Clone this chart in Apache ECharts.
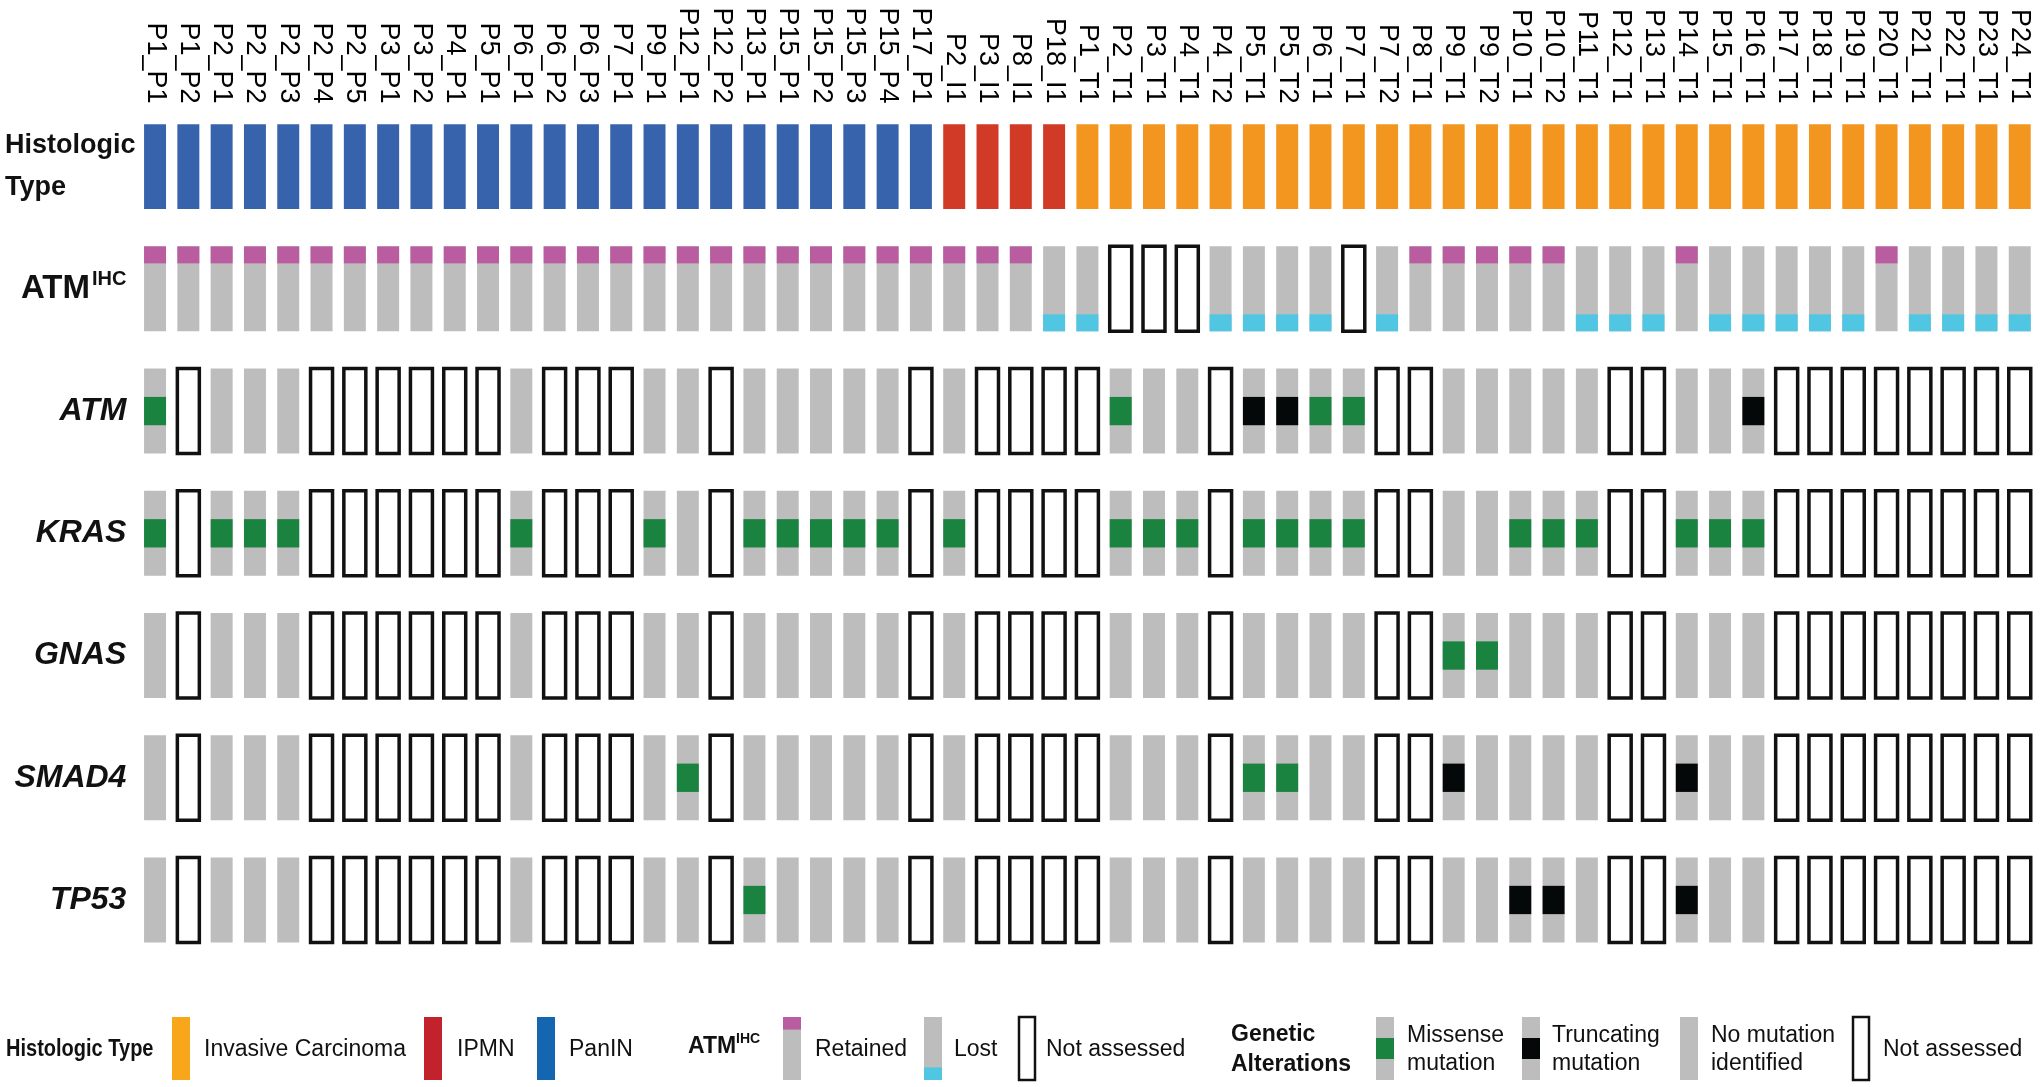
<!DOCTYPE html>
<html><head><meta charset="utf-8">
<script src="https://cdn.jsdelivr.net/npm/echarts@6/dist/echarts.min.js"></script>
<style>html,body{margin:0;padding:0;background:#fff}#chart{width:2040px;height:1087px}</style>
</head><body><div id="chart"></div>
<script>
// ---------------- DATA ----------------
const samples = ['P1_P1','P1_P2','P2_P1','P2_P2','P2_P3','P2_P4','P2_P5','P3_P1','P3_P2','P4_P1',
  'P5_P1','P6_P1','P6_P2','P6_P3','P7_P1','P9_P1','P12_P1','P12_P2','P13_P1','P15_P1',
  'P15_P2','P15_P3','P15_P4','P17_P1','P2_I1','P3_I1','P8_I1','P18_I1','P1_T1','P2_T1',
  'P3_T1','P4_T1','P4_T2','P5_T1','P5_T2','P6_T1','P7_T1','P7_T2','P8_T1','P9_T1',
  'P9_T2','P10_T1','P10_T2','P11_T1','P12_T1','P13_T1','P14_T1','P15_T1','P16_T1','P17_T1',
  'P18_T1','P19_T1','P20_T1','P21_T1','P22_T1','P23_T1','P24_T1'];

const rowNames = ['Histologic Type','ATM IHC','ATM','KRAS','GNAS','SMAD4','TP53'];

// PanIN / IPMN / IC (invasive carcinoma)
const histologicType = ['PanIN','PanIN','PanIN','PanIN','PanIN','PanIN','PanIN','PanIN','PanIN','PanIN',
  'PanIN','PanIN','PanIN','PanIN','PanIN','PanIN','PanIN','PanIN','PanIN','PanIN',
  'PanIN','PanIN','PanIN','PanIN','IPMN','IPMN','IPMN','IPMN','IC','IC',
  'IC','IC','IC','IC','IC','IC','IC','IC','IC','IC',
  'IC','IC','IC','IC','IC','IC','IC','IC','IC','IC',
  'IC','IC','IC','IC','IC','IC','IC'];

// R = retained, L = lost, N = not assessed
const atmIHC = ['R','R','R','R','R','R','R','R','R','R',
  'R','R','R','R','R','R','R','R','R','R',
  'R','R','R','R','R','R','R','L','L','N',
  'N','N','L','L','L','L','N','L','R','R',
  'R','R','R','L','L','L','R','L','L','L',
  'L','L','R','L','L','L','L'];

// W = no mutation identified, M = missense, T = truncating, N = not assessed
const atmMutation = ['M','N','W','W','W','N','N','N','N','N',
  'N','W','N','N','N','W','W','N','W','W',
  'W','W','W','N','W','N','N','N','N','M',
  'W','W','N','T','T','M','M','N','N','W',
  'W','W','W','W','N','N','W','W','T','N',
  'N','N','N','N','N','N','N'];
const krasMutation = ['M','N','M','M','M','N','N','N','N','N',
  'N','M','N','N','N','M','W','N','M','M',
  'M','M','M','N','M','N','N','N','N','M',
  'M','M','N','M','M','M','M','N','N','W',
  'W','M','M','M','N','N','M','M','M','N',
  'N','N','N','N','N','N','N'];
const gnasMutation = ['W','N','W','W','W','N','N','N','N','N',
  'N','W','N','N','N','W','W','N','W','W',
  'W','W','W','N','W','N','N','N','N','W',
  'W','W','N','W','W','W','W','N','N','M',
  'M','W','W','W','N','N','W','W','W','N',
  'N','N','N','N','N','N','N'];
const smad4Mutation = ['W','N','W','W','W','N','N','N','N','N',
  'N','W','N','N','N','W','M','N','W','W',
  'W','W','W','N','W','N','N','N','N','W',
  'W','W','N','M','M','W','W','N','N','T',
  'W','W','W','W','N','N','T','W','W','N',
  'N','N','N','N','N','N','N'];
const tp53Mutation = ['W','N','W','W','W','N','N','N','N','N',
  'N','W','N','N','N','W','W','N','M','W',
  'W','W','W','N','W','N','N','N','N','W',
  'W','W','N','W','W','W','W','N','N','W',
  'W','T','T','W','N','N','T','W','W','N',
  'N','N','N','N','N','N','N'];

// ---------------- STYLE ----------------
const C = {
  PanIN: '#3763AD', IPMN: '#D03A26', IC: '#F39620',
  pink: '#BA5CA0', cyan: '#50C6E3', grey: '#BDBDBD',
  green: '#1A8340', black: '#050808', box: '#111111',
  legPanIN: '#1466B0', legIPMN: '#C1222B', legIC: '#F9A71A'
};
const FONT = '"Liberation Sans", Arial, Helvetica, sans-serif';

const rows = [histologicType, atmIHC, atmMutation, krasMutation, gnasMutation, smad4Mutation, tp53Mutation];
const cells = [];
rows.forEach((arr, r) => arr.forEach((code, c) => cells.push({ value: [c, r], code: code, row: r })));

function renderCell(params, api) {
  const cell = cells[params.dataIndex];
  const p = api.coord([api.value(0), api.value(1)]);
  const s = api.size([1, 1]);
  const w = s[0] * 0.66, h = s[1] * 0.695;
  const x = p[0] - w / 2, y = p[1] - h / 2;
  const rect = (yy, hh, fill) => ({ type: 'rect', shape: { x: x, y: yy, width: w, height: hh }, style: { fill: fill } });
  const code = cell.code;
  const ch = [];
  if (cell.row === 0) {
    ch.push(rect(y, h, C[code]));
  } else if (code === 'N') {
    ch.push({ type: 'rect', shape: { x: x, y: y, width: w, height: h }, style: { fill: '#fff', stroke: C.box, lineWidth: 3.5 } });
  } else {
    ch.push(rect(y, h, C.grey));
    if (code === 'R') ch.push(rect(y, h * 0.2, C.pink));
    if (code === 'L') ch.push(rect(y + h * 0.8, h * 0.2, C.cyan));
    if (code === 'M') ch.push(rect(y + h / 3, h / 3, C.green));
    if (code === 'T') ch.push(rect(y + h / 3, h / 3, C.black));
  }
  return { type: 'group', children: ch };
}

// ---------------- LEGEND (graphic) ----------------
const LY = 1017, LH = 63, LW = 18, LC = LY + LH / 2 + 1;
function sw(x, fill) { return { type: 'rect', shape: { x: x, y: LY, width: LW, height: LH }, style: { fill: fill } }; }
function band(x, yy, hh, fill) { return { type: 'rect', shape: { x: x, y: yy, width: LW, height: hh }, style: { fill: fill } }; }
function box(x) { return { type: 'rect', shape: { x: x, y: LY, width: LW - 2, height: LH }, style: { fill: '#fff', stroke: C.box, lineWidth: 2.5 } }; }
function txt(x, text, opt, extra) {
  opt = opt || {};
  return Object.assign({ type: 'text', x: x, y: LC, style: Object.assign({ text: text, fill: '#111', font: '23px ' + FONT, textAlign: 'left', textVerticalAlign: 'middle', lineHeight: 28 }, opt) }, extra || {});
}
const legend = [
  txt(6, 'Histologic Type', { font: 'bold 23px ' + FONT }, { scaleX: 0.87 }),
  sw(172, C.legIC), txt(204, 'Invasive Carcinoma'),
  sw(424, C.legIPMN), txt(457, 'IPMN'),
  sw(537, C.legPanIN), txt(569, 'PanIN'),
  { type: 'text', x: 688, y: LC - 3, style: { text: '{a|ATM}{s|IHC}', textAlign: 'left', textVerticalAlign: 'middle',
      rich: { a: { font: 'bold 23px ' + FONT, fill: '#111', lineHeight: 28 }, s: { font: 'bold 14px ' + FONT, fill: '#111', verticalAlign: 'top', lineHeight: 16 } } } },
  sw(783, C.grey), band(783, LY, LH * 0.2, C.pink), txt(815, 'Retained'),
  sw(924, C.grey), band(924, LY + LH * 0.8, LH * 0.2, C.cyan), txt(954, 'Lost'),
  box(1019), txt(1046, 'Not assessed'),
  txt(1231, 'Genetic\nAlterations', { font: 'bold 23px ' + FONT, lineHeight: 30 }),
  sw(1376, C.grey), band(1376, LY + LH / 3, LH / 3, C.green), txt(1407, 'Missense\nmutation'),
  sw(1522, C.grey), band(1522, LY + LH / 3, LH / 3, C.black), txt(1552, 'Truncating\nmutation'),
  sw(1680, C.grey), txt(1711, 'No mutation\nidentified'),
  box(1853), txt(1883, 'Not assessed')
];

// ---------------- CHART ----------------
const chart = echarts.init(document.getElementById('chart'), null, { renderer: 'canvas' });
chart.setOption({
  animation: false,
  backgroundColor: '#fff',
  grid: { left: 138.4, right: 3.6, top: 105.5, height: 855.6, outerBoundsMode: 'none' },
  xAxis: {
    type: 'category', data: samples, position: 'top',
    axisLine: { show: false }, axisTick: { show: false }, splitLine: { show: false },
    axisLabel: { rotate: 90, interval: 0, margin: 2, fontSize: 27, fontFamily: FONT, color: '#000' }
  },
  yAxis: {
    type: 'category', data: rowNames, inverse: true,
    axisLine: { show: false }, axisTick: { show: false }, splitLine: { show: false },
    axisLabel: {
      interval: 0, margin: 3,
      formatter: function (v) {
        if (v === 'Histologic Type') return '{h|Histologic}\n{hl|Type}';
        if (v === 'ATM IHC') return '{a|ATM}{s|IHC}';
        return '{g|' + v + '}';
      },
      rich: {
        h: { fontSize: 27, fontWeight: 'bold', fontFamily: FONT, color: '#111', lineHeight: 42 },
        hl: { fontSize: 27, fontWeight: 'bold', fontFamily: FONT, color: '#111', lineHeight: 42, align: 'left' },
        a: { fontSize: 33, fontWeight: 'bold', fontFamily: FONT, color: '#111', lineHeight: 38 },
        s: { fontSize: 20, fontWeight: 'bold', fontFamily: FONT, color: '#111', lineHeight: 22, verticalAlign: 'top', padding: [0, 9, 0, 2] },
        g: { fontSize: 32, fontWeight: 'bold', fontStyle: 'italic', fontFamily: FONT, color: '#111', padding: [0, 9, 0, 0] }
      }
    }
  },
  series: [{
    type: 'custom',
    renderItem: renderCell,
    data: cells,
    encode: { x: 0, y: 1 },
    clip: false
  }],
  graphic: legend
});
</script></body></html>
